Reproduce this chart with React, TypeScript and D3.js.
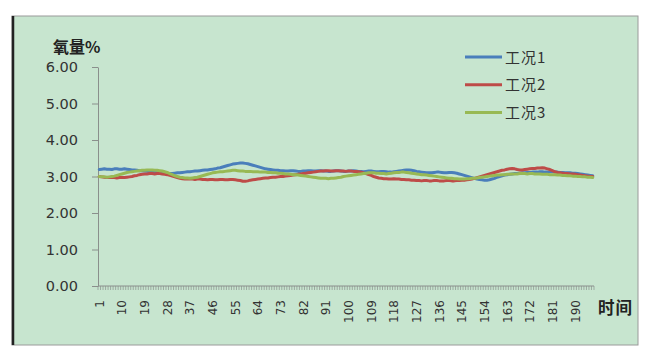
import React, { useEffect, useRef } from "react";
import * as d3 from "d3";

// ─── Data ─────────────────────────────────────────────────────────────────────
const SERIES_NAMES = ["工况1", "工况2", "工况3"];

const CASE_1 = [
  3.19, 3.2, 3.21, 3.2, 3.2, 3.19, 3.21, 3.21, 3.2, 3.2,
  3.21, 3.2, 3.19, 3.18, 3.18, 3.17, 3.16, 3.16, 3.15, 3.14,
  3.13, 3.12, 3.11, 3.1, 3.09, 3.08, 3.08, 3.07, 3.08, 3.08,
  3.09, 3.1, 3.1, 3.11, 3.12, 3.13, 3.13, 3.14, 3.15, 3.15,
  3.16, 3.17, 3.18, 3.18, 3.19, 3.2, 3.21, 3.23, 3.24, 3.26,
  3.28, 3.3, 3.32, 3.34, 3.35, 3.36, 3.37, 3.37, 3.36, 3.35,
  3.33, 3.31, 3.29, 3.27, 3.25, 3.23, 3.21, 3.2, 3.19, 3.18,
  3.17, 3.17, 3.16, 3.16, 3.15, 3.15, 3.16, 3.16, 3.15, 3.14,
  3.14, 3.15, 3.15, 3.16, 3.16, 3.15, 3.15, 3.16, 3.16, 3.15,
  3.15, 3.14, 3.14, 3.15, 3.16, 3.16, 3.15, 3.14, 3.14, 3.15,
  3.15, 3.16, 3.15, 3.14, 3.14, 3.13, 3.14, 3.15, 3.15, 3.14,
  3.13, 3.13, 3.14, 3.14, 3.13, 3.12, 3.12, 3.13, 3.14, 3.15,
  3.16, 3.17, 3.18, 3.18, 3.17, 3.16, 3.14, 3.13, 3.12, 3.11,
  3.1, 3.1, 3.1, 3.11, 3.12, 3.12, 3.11, 3.1, 3.1, 3.11,
  3.11, 3.1, 3.09, 3.07, 3.05, 3.03, 3.01, 2.99, 2.97, 2.95,
  2.93, 2.92, 2.91, 2.9, 2.9, 2.91, 2.93, 2.95, 2.98, 3.0,
  3.02, 3.04, 3.05, 3.06, 3.07, 3.08, 3.08, 3.09, 3.1, 3.1,
  3.11, 3.11, 3.12, 3.12, 3.12, 3.13, 3.13, 3.12, 3.12, 3.13,
  3.13, 3.12, 3.12, 3.11, 3.11, 3.1, 3.1, 3.1, 3.09, 3.09,
  3.08, 3.07, 3.06, 3.05, 3.04, 3.03, 3.02,
];

const CASE_2 = [
  3.0, 2.99, 2.98, 2.97, 2.97, 2.98, 2.97, 2.96, 2.97, 2.97,
  2.97, 2.98, 2.99, 3.0, 3.02, 3.03, 3.05, 3.06, 3.07, 3.07,
  3.08, 3.08, 3.07, 3.08, 3.08, 3.07, 3.06, 3.05, 3.03, 3.01,
  2.99, 2.97, 2.95, 2.94, 2.93, 2.93, 2.94, 2.93, 2.92, 2.93,
  2.93, 2.92, 2.92, 2.91, 2.92, 2.92, 2.91, 2.91, 2.92, 2.92,
  2.91, 2.91, 2.92, 2.92, 2.91, 2.9, 2.89, 2.87, 2.87, 2.88,
  2.9, 2.91, 2.92, 2.93, 2.94, 2.95, 2.96, 2.96, 2.97, 2.98,
  2.98, 2.99, 3.0, 3.0, 3.01, 3.02, 3.03, 3.04, 3.05, 3.06,
  3.07, 3.08, 3.09, 3.1, 3.11, 3.12, 3.13, 3.14, 3.15, 3.15,
  3.16, 3.16, 3.15, 3.15, 3.16, 3.16, 3.15, 3.15, 3.14, 3.15,
  3.15, 3.14, 3.14, 3.13, 3.12, 3.1, 3.08, 3.05, 3.03, 3.0,
  2.98, 2.96, 2.95, 2.94, 2.94, 2.93, 2.93, 2.94, 2.93, 2.93,
  2.92, 2.92, 2.91, 2.91, 2.9, 2.9, 2.89, 2.89, 2.88, 2.89,
  2.89, 2.88, 2.88, 2.89, 2.89, 2.88, 2.88, 2.88, 2.89, 2.89,
  2.88, 2.88, 2.89, 2.89, 2.9, 2.9, 2.91, 2.92, 2.93, 2.95,
  2.97, 2.99, 3.01, 3.03, 3.05, 3.07, 3.09, 3.11, 3.13, 3.15,
  3.17, 3.18, 3.2, 3.21, 3.22, 3.21, 3.19, 3.18, 3.18, 3.19,
  3.2, 3.21, 3.22, 3.22, 3.23, 3.23, 3.24, 3.23, 3.21, 3.19,
  3.16, 3.13, 3.11, 3.1, 3.09, 3.08, 3.08, 3.07, 3.07, 3.06,
  3.05, 3.04, 3.03, 3.02, 3.01, 3.0, 3.0,
];

const CASE_3 = [
  3.0, 2.99, 2.99, 2.98, 2.99, 3.0, 3.01, 3.03, 3.05, 3.07,
  3.09, 3.11, 3.12, 3.13, 3.14, 3.15, 3.16, 3.17, 3.17, 3.18,
  3.18, 3.18, 3.17, 3.17, 3.16, 3.15, 3.13, 3.11, 3.08, 3.05,
  3.02, 3.0, 2.98, 2.97, 2.96, 2.96, 2.95, 2.96, 2.97, 2.98,
  3.0, 3.02, 3.04, 3.06, 3.08, 3.1, 3.11, 3.12, 3.13, 3.13,
  3.14, 3.15, 3.16, 3.17, 3.17, 3.16, 3.15, 3.15, 3.14, 3.14,
  3.14, 3.13, 3.13, 3.13, 3.12, 3.12, 3.12, 3.11, 3.11, 3.1,
  3.1, 3.09, 3.09, 3.08, 3.07, 3.07, 3.06, 3.05, 3.05, 3.04,
  3.03, 3.02, 3.01, 3.0, 2.99, 2.98, 2.97, 2.96, 2.95, 2.95,
  2.95, 2.94, 2.95, 2.95, 2.96, 2.97, 2.98, 3.0, 3.01, 3.02,
  3.03, 3.04, 3.05, 3.06, 3.07, 3.08, 3.09, 3.1, 3.1, 3.1,
  3.09, 3.09, 3.08, 3.08, 3.07, 3.08, 3.09, 3.1, 3.11, 3.11,
  3.12, 3.12, 3.11, 3.1, 3.09, 3.08, 3.07, 3.06, 3.05, 3.05,
  3.04, 3.03, 3.02, 3.01, 3.0, 2.99, 2.98, 2.97, 2.96, 2.95,
  2.95, 2.94, 2.94, 2.93, 2.93, 2.93, 2.94, 2.94, 2.95, 2.95,
  2.96, 2.97, 2.98, 2.99, 3.0, 3.01, 3.02, 3.03, 3.04, 3.04,
  3.05, 3.05, 3.06, 3.06, 3.07, 3.07, 3.07, 3.08, 3.08, 3.08,
  3.07, 3.08, 3.08, 3.07, 3.07, 3.07, 3.06, 3.06, 3.06, 3.05,
  3.05, 3.05, 3.04, 3.04, 3.03, 3.03, 3.02, 3.02, 3.01, 3.01,
  3.0, 3.0, 2.99, 2.99, 2.98, 2.98, 2.97,
];

const Y_TICKS = [0, 1, 2, 3, 4, 5, 6];
const LABEL_STEP = 9; // Excel shows every 9th category: 1, 10, 19 ...

// ─── Design tokens ────────────────────────────────────────────────────────────
const WIDTH = 658;
const HEIGHT = 361;
const PANEL = { left: 12, top: 16, right: 638, bottom: 345 };
const PLOT = { left: 98, right: 594, top: 67, bottom: 286 };
const BG = "#c7e5cf";
const AXIS = "#8a8f8c";
const TEXT = "#333333";
const COLORS = ["#4a7ebb", "#be4b48", "#98b954"];
const NUM_FONT = "'DejaVu Sans', Verdana, sans-serif";
const CJK_FONT = "'Noto Sans CJK SC', sans-serif";

export default function App() {
  const svgRef = useRef<SVGSVGElement>(null);

  useEffect(() => {
    const node = svgRef.current;
    if (!node) return;
    const svg = d3.select(node);
    svg.selectAll("*").remove();

    const series = [CASE_1, CASE_2, CASE_3];
    const categories = d3.range(1, CASE_1.length + 1);

    // ── Panel ─────────────────────────────────────────────────────────────
    svg.append("rect")
      .attr("x", PANEL.left)
      .attr("y", PANEL.top)
      .attr("width", PANEL.right - PANEL.left)
      .attr("height", PANEL.bottom - PANEL.top)
      .attr("fill", BG)
      .attr("stroke", "#9a9a9a")
      .attr("stroke-width", 1);

    svg.append("line")
      .attr("x1", PANEL.left + 1)
      .attr("x2", PANEL.left + 1)
      .attr("y1", PANEL.top)
      .attr("y2", PANEL.bottom)
      .attr("stroke", "#222")
      .attr("stroke-width", 2.5);

    // ── Scales ────────────────────────────────────────────────────────────
    const x = d3
      .scaleBand<number>()
      .domain(categories)
      .range([PLOT.left, PLOT.right])
      .padding(0);
    const bw = x.bandwidth();
    const y = d3.scaleLinear().domain([0, 6]).range([PLOT.bottom, PLOT.top]);

    // ── Y axis ────────────────────────────────────────────────────────────
    const yAxis = svg
      .append("g")
      .attr("transform", `translate(${PLOT.left},0)`)
      .call(
        d3.axisLeft(y).tickValues(Y_TICKS).tickSize(6).tickSizeOuter(0)
          .tickPadding(14).tickFormat(d3.format(".2f")),
      );
    yAxis.select(".domain").attr("stroke", AXIS);
    yAxis.selectAll(".tick line").attr("stroke", AXIS);
    yAxis.selectAll("text")
      .attr("fill", TEXT)
      .attr("font-size", 14.5)
      .attr("font-family", NUM_FONT);

    // ── X axis: a minor tick on every category boundary ───────────────────
    const xg = svg.append("g");
    xg.append("line")
      .attr("x1", PLOT.left)
      .attr("x2", PLOT.right)
      .attr("y1", PLOT.bottom)
      .attr("y2", PLOT.bottom)
      .attr("stroke", AXIS);
    xg.selectAll("line.tick")
      .data([...categories, categories.length + 1])
      .join("line")
      .attr("class", "tick")
      .attr("x1", (d) => (d <= categories.length ? x(d)! : PLOT.right))
      .attr("x2", (d) => (d <= categories.length ? x(d)! : PLOT.right))
      .attr("y1", PLOT.bottom)
      .attr("y2", PLOT.bottom + 4)
      .attr("stroke", AXIS)
      .attr("stroke-width", 0.7);

    xg.selectAll("text")
      .data(categories.filter((c) => (c - 1) % LABEL_STEP === 0))
      .join("text")
      .attr(
        "transform",
        (d) => `translate(${x(d)! + bw / 2 + 4.5},${PLOT.bottom + 14}) rotate(-90)`,
      )
      .attr("text-anchor", "end")
      .attr("fill", TEXT)
      .attr("font-size", 12)
      .attr("font-family", NUM_FONT)
      .text((d) => String(d));

    // ── Axis titles ───────────────────────────────────────────────────────
    svg.append("text")
      .attr("x", 53)
      .attr("y", 53)
      .attr("fill", "#222")
      .attr("font-size", 16)
      .attr("font-weight", "bold")
      .attr("font-family", CJK_FONT)
      .text("氧量%");

    svg.append("text")
      .attr("x", 598)
      .attr("y", 314)
      .attr("fill", "#222")
      .attr("font-size", 16.5)
      .attr("font-weight", "bold")
      .attr("font-family", CJK_FONT)
      .attr("letter-spacing", 1)
      .text("时间");

    // ── Lines ─────────────────────────────────────────────────────────────
    const line = d3
      .line<number>()
      .x((_, i) => x(categories[i])! + bw / 2)
      .y((d) => y(d));

    series.forEach((s, i) => {
      svg.append("path")
        .datum(s)
        .attr("d", line)
        .attr("fill", "none")
        .attr("stroke", COLORS[i])
        .attr("stroke-width", 3)
        .attr("stroke-linejoin", "round")
        .attr("stroke-linecap", "round");
    });

    // ── Legend ────────────────────────────────────────────────────────────
    const legend = svg.append("g").attr("transform", "translate(465,57)");
    SERIES_NAMES.forEach((name, i) => {
      const row = legend.append("g").attr("transform", `translate(0,${i * 27.7})`);
      row.append("line")
        .attr("x1", 0)
        .attr("x2", 37)
        .attr("stroke", COLORS[i])
        .attr("stroke-width", 3);
      row.append("text")
        .attr("x", 40)
        .attr("y", 5.5)
        .attr("fill", TEXT)
        .attr("font-size", 15)
        .attr("font-family", CJK_FONT)
        .attr("letter-spacing", 1)
        .text(name);
    });
  }, []);

  return (
    <svg
      ref={svgRef}
      width={WIDTH}
      height={HEIGHT}
      style={{ position: "absolute", left: 0, top: 0, background: "#fff" }}
    />
  );
}
